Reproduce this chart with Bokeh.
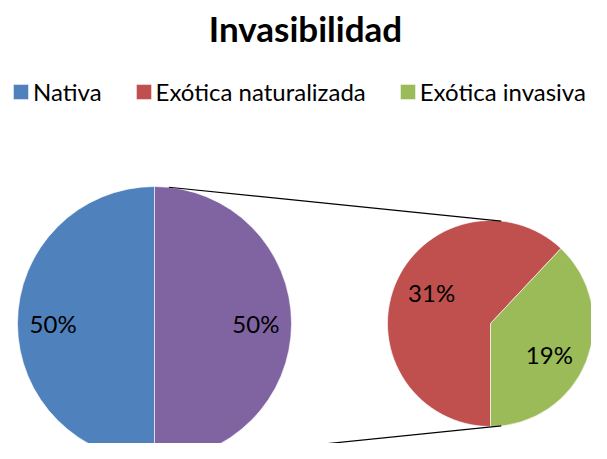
import math
from bokeh.plotting import figure
from bokeh.models import Range1d, Legend, LegendItem, ColumnDataSource
from bokeh.core.properties import value
from bokeh.embed import file_html
from bokeh.resources import INLINE

# ---- data ----
title = "Invasibilidad"
categories = ["Nativa", "Exótica naturalizada", "Exótica invasiva"]
values = [50, 31, 19]
colors = ["#4F81BD", "#C0504D", "#9BBB59"]
other_color = "#8064A2"

FONT = "Lato"

W, H = 591, 443
p = figure(width=W, height=H, x_range=Range1d(0, W), y_range=Range1d(-H, 0),
           output_backend="svg", toolbar_location=None, min_border=0,
           x_axis_location=None, y_axis_location=None)
p.grid.visible = False
p.outline_line_color = None
p.background_fill_color = "white"

total = sum(values)

# primary pie: Nativa + "other" (the two exotic categories)
c1x, c1y, r1 = 154, -323, 137
prim_vals = [values[0], values[1] + values[2]]
prim_cols = [colors[0], other_color]
a = math.pi / 2
ps, pe = [], []
for v in prim_vals:
    ps.append(a)
    a += 2 * math.pi * v / sum(prim_vals)
    pe.append(a)
src1 = ColumnDataSource(dict(start=ps, end=pe, color=prim_cols))
r_prim = p.wedge(x=c1x, y=c1y, radius=r1, start_angle="start", end_angle="end",
                 fill_color="color", line_color="white", line_width=0.6, source=src1)

# secondary pie: breakdown of the exotic part
c2x, c2y, r2 = 490, -323, 103
sec_vals = [values[1], values[2]]
sec_cols = [colors[1], colors[2]]
sec_tot = sum(sec_vals)
g_end = -math.pi / 2 + 2 * math.pi * sec_vals[1] / sec_tot
ss = [g_end, -math.pi / 2]
se = [3 * math.pi / 2, g_end]
src2 = ColumnDataSource(dict(start=ss, end=se, color=sec_cols))
r_sec = p.wedge(x=c2x, y=c2y, radius=r2, start_angle="start", end_angle="end",
                fill_color="color", line_color="white", line_width=0.6, source=src2)

# connector lines
ca = math.radians(84)
p.segment(x0=[c1x + r1 * math.cos(ca), c1x + r1 * math.cos(-ca)],
          y0=[c1y + r1 * math.sin(ca), c1y + r1 * math.sin(-ca)],
          x1=[c2x + r2 * math.cos(ca), c2x + r2 * math.cos(-ca)],
          y1=[c2y + r2 * math.sin(ca), c2y + r2 * math.sin(-ca)],
          line_color="black", line_width=1.2)

# data labels
lx, ly, lt = [], [], []
for s, e, v in zip(ps, pe, prim_vals):
    m = (s + e) / 2
    lx.append(c1x + 0.74 * r1 * math.cos(m))
    ly.append(c1y + 0.74 * r1 * math.sin(m))
    lt.append(f"{100 * v / total:.0f}%")
shift = math.radians(-6)
for s, e, v in zip(ss, se, sec_vals):
    m = (s + e) / 2 + shift
    lx.append(c2x + 0.645 * r2 * math.cos(m))
    ly.append(c2y + 0.645 * r2 * math.sin(m))
    lt.append(f"{100 * v / total:.0f}%")
p.text(x=lx, y=ly, text=lt, text_font=value(FONT), text_font_size="24px",
       text_color="black", text_align="center", text_baseline="middle")

# title
p.text(x=[305], y=[-27], text=[title], text_font=value(FONT), text_font_style="bold",
       text_font_size="35px", text_color="black", text_align="center",
       text_baseline="middle")

legend = Legend(items=[
    LegendItem(label=categories[0], renderers=[r_prim], index=0),
    LegendItem(label=categories[1], renderers=[r_sec], index=0),
    LegendItem(label=categories[2], renderers=[r_sec], index=1),
], orientation="horizontal", location=(11, 337), padding=0, margin=0,
    spacing=32, label_standoff=3, glyph_width=19, glyph_height=19, label_height=19,
    label_text_font=FONT, label_text_font_size="24px", label_text_color="black",
    border_line_color=None, background_fill_alpha=0)
p.add_layout(legend, "center")

open("out.html", "w").write(file_html(p, INLINE))
